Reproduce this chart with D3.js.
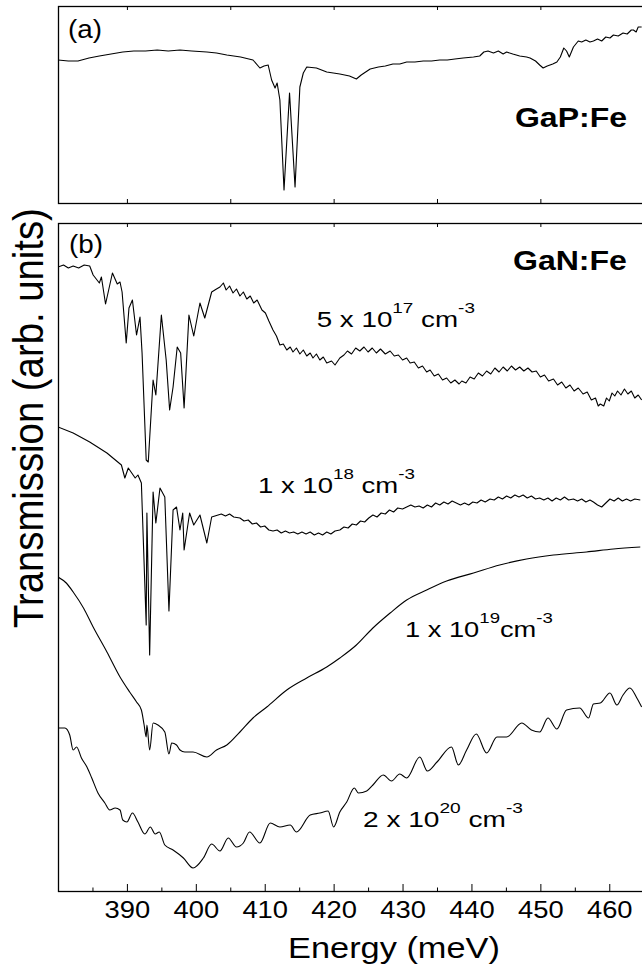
<!DOCTYPE html>
<html>
<head>
<meta charset="utf-8">
<script src="https://cdn.jsdelivr.net/npm/d3@7"></script>
<style>
body { margin: 0; background: #fff; }
svg { display: block; font-family: "Liberation Sans", Arial, sans-serif; }
text { white-space: pre; }
</style>
</head>
<body>
<script>
// ---- data (energy in meV, transmission in arb. units) ----

// panel (a) GaP:Fe
var energyGaP = [380.0, 381.5, 382.9, 384.5, 386.0, 387.7, 389.4, 391.0, 392.7, 394.4, 396.0, 397.7, 399.4, 401.6, 403.0, 404.5, 406.5, 408.3,
    409.3, 409.9, 410.5, 411.0, 411.5, 411.8, 412.2, 412.8, 413.6, 414.4, 415.1, 415.6, 416.1, 417.5, 419.0, 420.9, 422.3, 423.3, 424.0,
    425.3, 426.5, 427.5, 428.6, 429.6, 430.6, 431.8, 433.0, 434.2, 435.4, 436.5, 437.6, 438.8, 440.3, 441.2, 441.8, 442.4, 443.2, 443.9,
    444.6, 445.1, 446.0, 447.0, 448.0, 448.5, 449.3, 449.9, 450.4, 451.0, 451.8, 452.4, 452.9, 453.4, 453.8, 454.2, 454.8, 455.5, 456.0,
    456.6, 457.2, 457.7, 458.3, 458.9, 459.5, 460.1, 460.6, 461.3, 462.0, 462.6, 463.2, 463.5, 463.9, 464.2, 464.7];
var transGaP = [1.43, 1.42, 1.42, 1.45, 1.47, 1.49, 1.51, 1.52, 1.52, 1.53, 1.52, 1.53, 1.52, 1.51, 1.50, 1.48, 1.46, 1.43,
    1.35, 1.37, 1.38, 1.23, 1.15, 1.20, 1.03, 0.13, 1.10, 0.16, 1.16, 1.30, 1.36, 1.35, 1.31, 1.29, 1.27, 1.24, 1.28,
    1.34, 1.36, 1.37, 1.39, 1.39, 1.41, 1.41, 1.42, 1.42, 1.43, 1.43, 1.44, 1.45, 1.46, 1.47, 1.51, 1.52, 1.50, 1.52,
    1.49, 1.51, 1.49, 1.47, 1.46, 1.45, 1.42, 1.38, 1.35, 1.37, 1.39, 1.41, 1.46, 1.55, 1.52, 1.46, 1.56, 1.62, 1.61,
    1.63, 1.61, 1.62, 1.64, 1.62, 1.66, 1.65, 1.68, 1.67, 1.70, 1.69, 1.73, 1.73, 1.71, 1.76, 1.76];

// panel (b) GaN:Fe, 5 x 10^17 cm^-3
var energy5e17 = [380.0, 380.8, 381.5, 382.2, 383.0, 383.8, 384.6, 385.1, 386.0, 386.3, 386.9, 387.9, 388.6, 389.0, 389.3, 389.9, 390.3,
    390.8, 391.4, 391.9, 392.2, 392.8, 393.1, 393.8, 394.2, 395.0, 395.7, 396.2, 396.7, 397.3, 397.8, 398.3, 399.0, 399.7, 400.6, 401.3,
    402.3, 403.0, 403.5, 404.0, 404.4, 404.9, 405.4, 405.9, 406.4, 406.9, 407.4, 407.9, 408.4, 408.9, 409.6, 410.1, 410.6, 411.2, 411.7,
    412.2, 412.7, 413.2, 413.7, 414.1, 414.6, 415.1, 415.6, 416.1, 416.6, 417.0, 417.5, 418.0, 418.5, 419.0, 419.7, 420.2, 420.9, 421.5,
    422.0, 422.6, 423.2, 423.8, 424.4, 425.0, 425.6, 426.2, 426.8, 427.5, 428.2, 428.8, 429.4, 430.0, 430.6, 431.1, 431.7, 432.3, 432.9,
    433.5, 434.0, 434.6, 435.2, 435.8, 436.4, 437.0, 437.6, 438.2, 438.6, 439.2, 439.8, 440.4, 441.0, 441.6, 442.2, 442.8, 443.4, 444.0,
    444.6, 445.2, 445.8, 446.4, 447.0, 447.6, 448.2, 448.8, 449.4, 450.0, 450.6, 451.2, 451.9, 452.5, 453.1, 453.7, 454.3, 454.9, 455.5,
    456.2, 456.8, 457.4, 458.0, 458.4, 458.7, 459.2, 459.6, 460.0, 460.4, 460.8, 461.2, 461.7, 462.2, 462.7, 463.2, 463.7, 464.2, 464.7];
var trans5e17 = [6.24, 6.26, 6.23, 6.25, 6.23, 6.26, 6.25, 6.16, 6.08, 6.14, 5.87, 6.18, 6.07, 6.09, 5.99, 5.48, 5.83,
    5.91, 5.56, 5.74, 5.38, 4.31, 4.29, 5.11, 4.96, 5.76, 5.31, 4.81, 5.04, 5.44, 5.38, 4.83, 5.76, 5.55, 5.88, 5.73,
    5.99, 6.02, 6.04, 6.08, 6.01, 6.05, 5.98, 6.02, 5.95, 5.99, 5.92, 5.95, 5.88, 5.91, 5.81, 5.78, 5.70, 5.61, 5.55,
    5.46, 5.47, 5.41, 5.44, 5.39, 5.43, 5.37, 5.41, 5.35, 5.38, 5.33, 5.37, 5.31, 5.34, 5.28, 5.30, 5.26, 5.33, 5.36,
    5.40, 5.37, 5.43, 5.40, 5.44, 5.39, 5.43, 5.38, 5.42, 5.37, 5.40, 5.35, 5.36, 5.31, 5.33, 5.28, 5.29, 5.23, 5.25,
    5.19, 5.21, 5.15, 5.17, 5.11, 5.13, 5.08, 5.11, 5.07, 5.10, 5.08, 5.14, 5.12, 5.18, 5.15, 5.20, 5.17, 5.23, 5.19,
    5.24, 5.20, 5.25, 5.21, 5.24, 5.20, 5.23, 5.19, 5.20, 5.14, 5.16, 5.10, 5.12, 5.06, 5.09, 5.03, 5.06, 5.00, 5.03,
    4.97, 4.99, 4.91, 4.93, 4.85, 4.87, 4.85, 4.93, 4.90, 4.98, 4.95, 5.00, 4.96, 5.02, 4.97, 5.00, 4.93, 4.96, 4.91];

// 1 x 10^18 cm^-3
var energy1e18 = [380.0, 382.2, 384.6, 387.1, 389.2, 389.7, 390.2, 391.2, 391.6, 392.1, 392.8, 392.9, 393.3, 393.8, 394.2, 394.8, 395.5,
    396.1, 396.7, 397.2, 397.7, 398.1, 398.3, 399.1, 399.7, 400.6, 401.6, 402.3, 403.7, 404.3, 404.9, 405.5, 406.4, 407.0, 407.6, 408.2,
    408.8, 409.4, 410.0, 410.6, 411.2, 411.8, 412.4, 413.0, 413.6, 414.2, 414.8, 415.4, 416.0, 416.6, 417.2, 417.8, 418.4, 419.0, 419.6,
    420.2, 420.9, 421.5, 422.1, 422.7, 423.3, 423.9, 424.5, 425.1, 425.7, 426.3, 426.9, 427.5, 428.1, 428.7, 429.3, 430.0, 430.6, 431.2,
    431.8, 432.4, 433.0, 433.6, 434.2, 434.8, 435.4, 436.0, 436.6, 437.2, 437.8, 438.4, 439.0, 439.6, 440.2, 440.8, 441.4, 442.0, 442.7,
    443.3, 443.9, 444.5, 445.1, 445.7, 446.3, 446.9, 447.5, 448.1, 448.7, 449.3, 449.9, 450.5, 451.1, 451.7, 452.3, 452.9, 453.5, 454.1,
    454.8, 455.4, 456.0, 456.6, 457.2, 457.7, 458.3, 458.9, 459.5, 460.1, 460.7, 461.3, 461.9, 462.5, 463.1, 463.7, 464.5];
var trans1e18 = [4.64, 4.58, 4.49, 4.38, 4.26, 4.13, 4.23, 4.13, 4.16, 4.08, 2.66, 3.78, 2.36, 3.99, 3.68, 4.03, 3.94,
    2.80, 3.81, 3.84, 3.61, 3.78, 3.41, 3.78, 3.66, 3.76, 3.48, 3.74, 3.77, 3.75, 3.77, 3.74, 3.73, 3.70, 3.71, 3.67,
    3.68, 3.64, 3.65, 3.61, 3.60, 3.61, 3.58, 3.60, 3.58, 3.59, 3.57, 3.59, 3.57, 3.59, 3.56, 3.58, 3.56, 3.59, 3.57,
    3.60, 3.61, 3.64, 3.63, 3.67, 3.66, 3.70, 3.69, 3.73, 3.76, 3.74, 3.78, 3.77, 3.81, 3.79, 3.83, 3.82, 3.84, 3.86,
    3.84, 3.85, 3.83, 3.86, 3.84, 3.88, 3.86, 3.89, 3.87, 3.90, 3.88, 3.86, 3.88, 3.86, 3.89, 3.88, 3.91, 3.89, 3.92,
    3.91, 3.94, 3.92, 3.95, 3.93, 3.96, 3.94, 3.96, 3.93, 3.95, 3.92, 3.93, 3.91, 3.93, 3.90, 3.93, 3.91, 3.94, 3.91,
    3.92, 3.90, 3.92, 3.89, 3.91, 3.89, 3.86, 3.84, 3.88, 3.92, 3.90, 3.93, 3.90, 3.92, 3.90, 3.92, 3.91];

// 1 x 10^19 cm^-3
var energy1e19 = [380.0, 381.2, 382.2, 383.7, 385.1, 387.1, 389.0, 390.4, 391.4, 392.1, 392.5, 392.8, 392.9, 393.3, 393.8, 394.5, 395.5,
    396.1, 396.5, 397.2, 397.7, 398.4, 399.6, 401.6, 403.0, 404.5, 406.4, 408.3, 410.3, 413.2, 416.1, 419.0, 420.9, 423.3, 425.7, 428.2,
    430.6, 433.5, 436.4, 440.3, 444.1, 448.0, 451.9, 456.7, 460.6, 464.5];
var trans1e19 = [3.14, 3.08, 2.99, 2.83, 2.64, 2.39, 2.14, 1.99, 1.89, 1.81, 1.66, 1.54, 1.66, 1.41, 1.68, 1.66, 1.59,
    1.37, 1.48, 1.46, 1.41, 1.39, 1.39, 1.34, 1.41, 1.46, 1.59, 1.73, 1.84, 2.01, 2.13, 2.24, 2.33, 2.46, 2.63, 2.78,
    2.91, 3.01, 3.10, 3.18, 3.26, 3.32, 3.36, 3.39, 3.42, 3.44];

// 2 x 10^20 cm^-3
var energy2e20 = [380.0, 381.0, 381.7, 382.2, 382.7, 383.4, 384.2, 384.9, 385.8, 386.8, 387.5, 388.3, 389.0, 389.4, 390.0, 390.8, 391.6,
    392.6, 393.4, 394.1, 394.7, 395.5, 396.7, 398.2, 399.6, 401.1, 402.3, 403.5, 404.7, 405.9, 406.9, 407.8, 409.3, 410.8, 412.2, 413.7,
    414.6, 416.6, 418.0, 419.2, 420.0, 420.9, 421.9, 423.0, 423.6, 424.8, 425.7, 427.2, 428.4, 429.6, 430.6, 432.5, 433.6, 435.0, 437.1,
    438.1, 439.3, 440.7, 442.2, 443.7, 445.1, 447.3, 448.7, 449.9, 451.1, 452.4, 453.8, 455.7, 457.0, 457.7, 458.7, 460.1, 461.1, 462.0,
    463.0, 464.0, 464.7];
var trans2e20 = [1.63, 1.63, 1.56, 1.41, 1.44, 1.33, 1.24, 1.13, 0.98, 0.88, 0.81, 0.83, 0.81, 0.71, 0.69, 0.78, 0.69,
    0.57, 0.64, 0.57, 0.59, 0.46, 0.41, 0.33, 0.23, 0.33, 0.47, 0.40, 0.53, 0.44, 0.48, 0.59, 0.48, 0.68, 0.64, 0.66,
    0.59, 0.76, 0.78, 0.80, 0.64, 0.79, 0.89, 1.03, 0.98, 1.00, 1.06, 1.16, 1.10, 1.17, 1.13, 1.34, 1.20, 1.29, 1.44,
    1.26, 1.41, 1.57, 1.38, 1.54, 1.54, 1.68, 1.61, 1.59, 1.73, 1.62, 1.81, 1.83, 1.73, 1.87, 1.88, 1.98, 1.86, 1.96,
    2.03, 1.93, 1.84];

// ticks
var panelTicks = [390, 405, 420, 435, 450, 465];
var majorTicks = [390, 400, 410, 420, 430, 440, 450, 460];
var minorTicks = [385, 395, 405, 415, 425, 435, 445, 455, 465];

// texts
var mantissas = ["5 x 10", "1 x 10", "1 x 10", "2 x 10"];
var exponents = ["17", "18", "19", "20"];
var units = [" cm", " cm", "cm", " cm"];

function init() {
    var w = 642;
    var h = 969;

    var svg = d3.select("body").append("svg")
        .attr("width", w)
        .attr("height", h);

    var x = d3.scaleLinear().domain([380, 464.75]).range([58, 642]);
    var yA = d3.scaleLinear().domain([0, 1.97]).range([203, 6]);
    var yB = d3.scaleLinear().domain([0, 6.68]).range([891, 223]);

    // clip each panel
    var defs = svg.append("defs");
    defs.append("clipPath").attr("id", "clipA")
        .append("rect").attr("x", 58).attr("y", 6).attr("width", 600).attr("height", 197);
    defs.append("clipPath").attr("id", "clipB")
        .append("rect").attr("x", 58).attr("y", 223).attr("width", 600).attr("height", 668);

    // draw a curve from energy / transmission arrays
    function drawCurve(es, ts, yScale, clip, curve) {
        var pts = es.map(function (e, i) { return [e, ts[i]]; });
        var line = d3.line()
            .curve(curve || d3.curveLinear)
            .x(function (d) { return x(d[0]); })
            .y(function (d) { return yScale(d[1]); });
        svg.append("path")
            .datum(pts)
            .attr("clip-path", "url(#" + clip + ")")
            .attr("fill", "none")
            .attr("stroke", "#000")
            .attr("stroke-width", 1.1)
            .attr("stroke-linejoin", "round")
            .attr("d", line);
    }

    drawCurve(energyGaP, transGaP, yA, "clipA");
    drawCurve(energy5e17, trans5e17, yB, "clipB");
    drawCurve(energy1e18, trans1e18, yB, "clipB");
    drawCurve(energy1e19, trans1e19, yB, "clipB", d3.curveMonotoneX);
    drawCurve(energy2e20, trans2e20, yB, "clipB", d3.curveMonotoneX);

    // small inward ticks on the panel edges
    function edgeTicks(yPos, top) {
        var ax = (top ? d3.axisTop(x) : d3.axisBottom(x))
            .tickValues(panelTicks).tickSize(-4).tickFormat("");
        var g = svg.append("g").attr("transform", "translate(0," + yPos + ")").call(ax);
        g.select(".domain").remove();
    }
    edgeTicks(6, true);
    edgeTicks(203, false);
    edgeTicks(223, true);

    // bottom axis of panel (b)
    var minorG = svg.append("g").attr("transform", "translate(0,891)")
        .call(d3.axisBottom(x).tickValues(minorTicks).tickSize(-3.5).tickFormat(""));
    minorG.select(".domain").remove();

    var majorG = svg.append("g").attr("transform", "translate(0,891)")
        .call(d3.axisBottom(x).tickValues(majorTicks).tickSize(-7).tickFormat(d3.format("d")));
    majorG.select(".domain").remove();
    majorG.attr("font-family", null).attr("font-size", null);
    majorG.selectAll("text")
        .attr("y", 0)
        .attr("dy", null)
        .attr("font-size", 24)
        .attr("fill", "#000")
        .attr("transform", "translate(0,27) scale(1.14,1)");

    // frames (right side runs off the picture)
    [[6, 197], [223, 668]].forEach(function (p) {
        svg.append("rect")
            .attr("x", 58.5).attr("y", p[0] + 0.5)
            .attr("width", 620).attr("height", p[1])
            .attr("fill", "none")
            .attr("stroke", "#000")
            .attr("stroke-width", 1.3);
    });

    // stretch a text so its ink spans x0..x1
    function fitText(t, x0, x1, baseline) {
        var bb = t.node().getBBox();
        var sx = (x1 - x0) / bb.width;
        t.attr("transform", "translate(" + (x0 - bb.x * sx) + "," + baseline + ") scale(" + sx + ",1)");
    }

    function plainLabel(str, size, bold, x0, x1, baseline) {
        var t = svg.append("text")
            .attr("font-size", size)
            .attr("font-weight", bold ? "bold" : "normal")
            .text(str);
        fitText(t, x0, x1, baseline);
    }

    plainLabel("(a)", 26, false, 68, 102, 38);
    plainLabel("(b)", 26, false, 69, 103, 253);
    plainLabel("GaP:Fe", 28, true, 515, 627, 127);
    plainLabel("GaN:Fe", 28, true, 513, 627, 270);

    // concentration labels
    var concPos = [[316.7, 475, 327], [258, 415, 493], [405, 553, 636.7], [363, 523, 826.7]];
    mantissas.forEach(function (m, i) {
        var t = svg.append("text").attr("font-size", 22);
        t.append("tspan").text(m);
        t.append("tspan").attr("font-size", 15).attr("dy", -14).text(exponents[i]);
        t.append("tspan").attr("dy", 14).text(units[i]);
        t.append("tspan").attr("font-size", 15).attr("dy", -14).text("-3");
        fitText(t, concPos[i][0], concPos[i][1], concPos[i][2]);
    });

    // axis titles
    var xt = svg.append("text").attr("font-size", 30).text("Energy (meV)");
    fitText(xt, 288, 500, 958);

    var yt = svg.append("text").attr("font-size", 38).text("Transmission (arb. units)");
    var bw = yt.node().getBBox().width;
    yt.attr("transform", "translate(43,628) scale(1.12," + (420 / bw) + ") rotate(-90)");
}
window.onload = init;
</script>
</body>
</html>
